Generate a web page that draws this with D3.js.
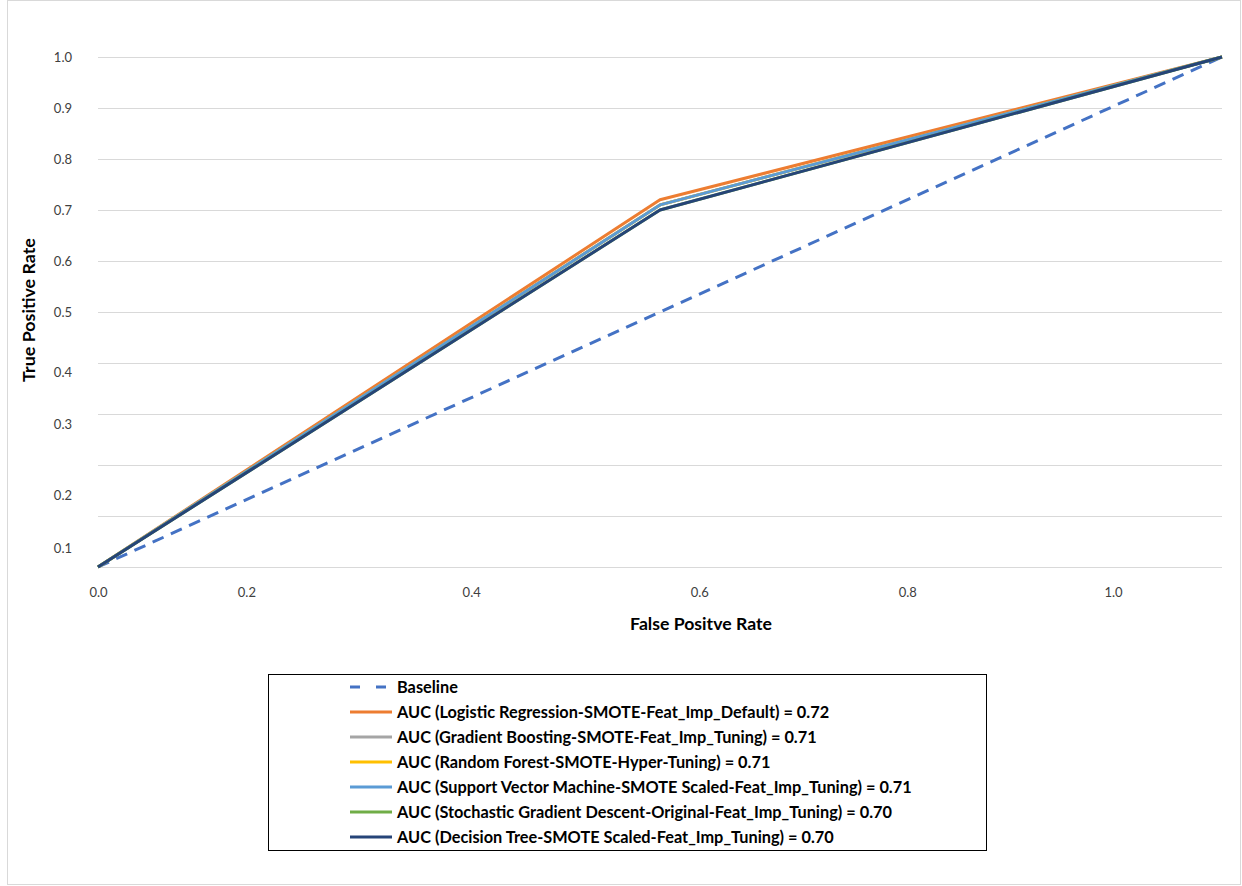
<!DOCTYPE html>
<html>
<head>
<meta charset="utf-8">
<script src="https://cdn.jsdelivr.net/npm/d3@7"></script>
<style>
  html, body { margin: 0; padding: 0; background: #ffffff; }
  svg { display: block; }
</style>
</head>
<body>
<svg id="chart" width="1242" height="886"></svg>
<script>
// ---- data ----
const fprSteps = [0, 0.5, 1];                 // three ROC points (category steps)
const baseline = [0, 0.5, 1];
const logisticRegression = [0, 0.72, 1];
const gradientBoosting = [0, 0.71, 1];
const randomForest = [0, 0.71, 1];
const svmSeries = [0, 0.71, 1];
const sgdSeries = [0, 0.70, 1];
const decisionTree = [0, 0.70, 1];

const seriesNames = [
  "Baseline",
  "AUC (Logistic Regression-SMOTE-Feat_Imp_Default) = 0.72",
  "AUC (Gradient Boosting-SMOTE-Feat_Imp_Tuning) = 0.71",
  "AUC (Random Forest-SMOTE-Hyper-Tuning) = 0.71",
  "AUC (Support Vector Machine-SMOTE Scaled-Feat_Imp_Tuning) = 0.71",
  "AUC (Stochastic Gradient Descent-Original-Feat_Imp_Tuning) = 0.70",
  "AUC (Decision Tree-SMOTE Scaled-Feat_Imp_Tuning) = 0.70"
];
const seriesColors = ["#4472C4", "#ED7D31", "#A5A5A5", "#FFC000", "#5B9BD5", "#70AD47", "#264478"];

const xTickLabels = ["0.0", "0.2", "0.4", "0.6", "0.8", "1.0"];
const xTickAt = [0, 0.132, 0.332, 0.535, 0.720, 0.903];
const yTickLabels = ["1.0", "0.9", "0.8", "0.7", "0.6", "0.5", "0.4", "0.3", "0.2", "0.1"];
const yTickAt = [1.0, 0.9, 0.8, 0.7, 0.6, 0.5, 0.381, 0.280, 0.140, 0.037];
const gridValues = [0, 0.1, 0.2, 0.3, 0.4, 0.5, 0.6, 0.7, 0.8, 0.9, 1.0];

// ---- layout ----
const plot = { left: 98, right: 1222, top: 57, bottom: 567 };
const FONT = "Lato, 'Open Sans', 'DejaVu Sans', sans-serif";

const svg = d3.select("#chart");

function fitFont(sel, base, target) {
  const w = sel.node().getComputedTextLength();
  sel.attr("font-size", base * target / w);
}

// chart frame
svg.append("rect")
  .attr("x", 7.5).attr("y", 0.5).attr("width", 1233).attr("height", 884)
  .attr("fill", "none").attr("stroke", "#d9d9d9").attr("stroke-width", 1);

const x = d3.scaleLinear().domain([0, 1]).range([plot.left, plot.right]);
const y = d3.scaleLinear().domain([0, 1]).range([plot.bottom, plot.top]);

// gridlines
svg.append("g")
  .selectAll("line").data(gridValues).join("line")
  .attr("x1", plot.left).attr("x2", plot.right)
  .attr("y1", d => Math.round(y(d)) + 0.5).attr("y2", d => Math.round(y(d)) + 0.5)
  .attr("stroke", "#d9d9d9").attr("stroke-width", 1);

// axes (labels only)
const xAxis = d3.axisBottom(x).tickValues(xTickAt)
  .tickFormat((d, i) => xTickLabels[i]).tickSize(0).tickPadding(0);
const gx = svg.append("g").attr("transform", `translate(0,${plot.bottom + 30})`).call(xAxis);
gx.select(".domain").remove();
gx.selectAll("text").attr("font-family", FONT).attr("font-size", 13).attr("fill", "#404040")
  .attr("dy", "0");

const yAxis = d3.axisLeft(y).tickValues(yTickAt)
  .tickFormat((d, i) => yTickLabels[i]).tickSize(0).tickPadding(0);
const gy = svg.append("g").attr("transform", `translate(72,0)`).call(yAxis);
gy.select(".domain").remove();
gy.selectAll("text").attr("font-family", FONT).attr("font-size", 13).attr("fill", "#404040")
  .attr("dy", "0.32em");

// axis titles
const xTitle = svg.append("text")
  .attr("x", 701).attr("y", 630)
  .attr("text-anchor", "middle")
  .attr("font-family", FONT).attr("font-weight", "bold").attr("font-size", 16)
  .attr("fill", "#000").text("False Positve Rate");
fitFont(xTitle, 16, 142);

const yTitle = svg.append("text")
  .attr("transform", "translate(35,310) rotate(-90)")
  .attr("text-anchor", "middle")
  .attr("font-family", FONT).attr("font-weight", "bold").attr("font-size", 16)
  .attr("fill", "#000").text("True Positive Rate");
fitFont(yTitle, 16, 144);

// lines
const allSeries = [baseline, logisticRegression, gradientBoosting, randomForest, svmSeries, sgdSeries, decisionTree];
const line = d3.line().x((d, i) => x(fprSteps[i])).y(d => y(d));

svg.append("g").selectAll("path").data(allSeries).join("path")
  .attr("d", d => line(d))
  .attr("fill", "none")
  .attr("stroke", (d, i) => seriesColors[i])
  .attr("stroke-width", 3)
  .attr("stroke-linejoin", "round")
  .attr("stroke-dasharray", (d, i) => i === 0 ? "12,8" : null);

// legend
const legend = svg.append("g");
legend.append("rect")
  .attr("x", 268.5).attr("y", 674.5).attr("width", 718).attr("height", 176)
  .attr("fill", "#fff").attr("stroke", "#000").attr("stroke-width", 1);

const rowY = d3.scaleLinear().domain([0, 1]).range([687, 712]);
const items = legend.selectAll("g.item").data(seriesNames).join("g").attr("class", "item")
  .attr("transform", (d, i) => `translate(0,${rowY(i)})`);
items.append("line")
  .attr("x1", 350).attr("x2", 392).attr("y1", 0).attr("y2", 0)
  .attr("stroke", (d, i) => seriesColors[i]).attr("stroke-width", 3)
  .attr("stroke-dasharray", (d, i) => i === 0 ? "10,16" : null);
const texts = items.append("text")
  .attr("x", 397).attr("y", 0).attr("dy", "0.35em")
  .attr("font-family", FONT).attr("font-weight", "bold").attr("font-size", 15)
  .attr("fill", "#000").text(d => d);

// fit legend font so the longest line matches the reference width
const svmNode = texts.nodes()[4];
const w = svmNode.getComputedTextLength();
const targetW = 515;
texts.attr("font-size", 15 * targetW / w);
</script>
</body>
</html>
